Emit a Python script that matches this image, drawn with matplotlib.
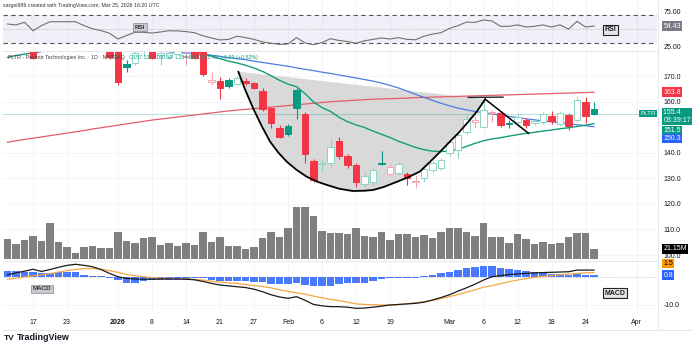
import numpy as np
import matplotlib.pyplot as plt

W, H = 695, 350
plt.rcParams['font.family'] = ['Liberation Sans', 'DejaVu Sans']

# bar index: 0 = 2025-12-17, one step per trading day (Dec 12 .. Mar 25)
bar_idx = np.arange(-3, 67)

opens = [188, 185, 183, 186, 182, 188, 193, 194, 195, 193, 188, 185, 183, 180, 174.9, 175.4, 180.5, 182, 178.5, 177.8,
         179, 177.5, 181, 180, 167.8, 168.4, 168.8, 166.9, 168.4, 167.3, 164.3, 157.5, 149.9, 150.7, 164.7, 155.3, 136.9,
         135.6, 136, 144.7, 138.8, 135.3, 127.7, 128.7, 135.9, 131.6, 132, 131.6, 128.7, 130.1, 133.3, 134, 139.9, 141.2,
         148.1, 152.3, 150.3, 155.6, 155.6, 151.6, 152.3, 152.9, 151.6, 152.3, 154.6, 151.3, 154.9, 152.9, 159.9, 157.1]
highs = [190, 187, 185, 188, 186, 195, 195, 196, 196, 194, 189, 186, 184, 182, 176.5, 180.5, 182, 183, 180.5, 181,
         181, 180, 182, 181, 171.9, 169.9, 169.5, 170.3, 169.3, 168, 165.5, 158, 151, 151.3, 165.4, 156, 137.5,
         137.3, 145.4, 146.2, 139.5, 136, 132.7, 134, 140.8, 135.5, 136.5, 132.7, 131.4, 135.3, 137, 138, 145, 148.1,
         154.9, 154.9, 160.8, 156.9, 156.2, 153, 155.7, 153.8, 152.9, 156.2, 156.5, 156.5, 155.6, 162, 162.1, 160.1]
lows = [182, 182, 182, 176.8, 181.8, 186, 191, 192, 193, 188, 184, 182, 177, 166.7, 171.9, 174.5, 178, 176.8, 174.5, 177,
        178.5, 174.5, 176.8, 170.3, 166.7, 161.2, 165.5, 166.5, 166.8, 165, 156.5, 149.7, 145.8, 146.8, 153.3, 136, 128.7,
        132.7, 134.6, 137.5, 134, 126.8, 126.8, 127.5, 135.2, 130.8, 131.5, 127.5, 126.2, 128.7, 132.5, 133.5, 139, 137.9,
        147.5, 149.7, 149.9, 152.3, 150.3, 149.7, 150.2, 149.7, 150.8, 151.5, 151.5, 150.5, 149, 152, 151.6, 154.9]
closes = [184, 183, 184, 177.2, 185, 193, 193.5, 195, 194, 189, 185, 183, 177.5, 167.8, 173.9, 179.3, 181, 177.2, 179.2, 179.3,
          180.8, 178, 177.3, 170.8, 168.5, 165.4, 166.1, 169.6, 167.6, 165.6, 157.3, 151.6, 146.4, 147.3, 157.8, 139.5, 129.4,
          136.2, 142.5, 138.8, 135.3, 128.7, 131, 133.3, 135.6, 134.6, 135.6, 130.3, 129.2, 133.7, 136, 137.3, 144.4, 147.1,
          153.2, 152.9, 156.9, 156.2, 151, 151.2, 154.2, 151, 152.5, 155.2, 152.5, 155.6, 150.6, 160.8, 154.6, 155.4]

volume_m = [41.7, 31.7, 40.2, 48.6, 38.7, 76.1, 36.0, 24.7, 12.1, 26.0, 28.1, 23.3, 22.6, 57.7, 38.7, 33.2, 43.8, 45.9,
            29.6, 34.5, 27.5, 33.2, 30.2, 57.7, 35.3, 47.2, 28.1, 28.1, 21.8, 26.0, 43.8, 57.7, 45.9, 65.6, 110.0, 110.0,
            90.9, 59.9, 55.6, 54.4, 52.9, 65.6, 48.6, 47.2, 57.7, 40.2, 52.2, 52.2, 47.2, 50.8, 43.8, 57.7, 65.6, 65.6,
            57.7, 48.6, 76.1, 45.9, 45.9, 33.2, 52.9, 41.7, 31.7, 36.0, 31.7, 33.2, 47.2, 55.6, 54.4, 21.15]

ema_green = [177.5, 178.2, 178.8, 179.2, 179.8, 180.8, 181.5, 182.2, 182.8, 183.2, 183.4, 183.4, 182.9, 181.8, 181.1,
             181.0, 180.8, 180.5, 180.4, 180.3, 180.2, 180.0, 179.7, 179.0, 178.0, 177.0, 176.0, 175.3, 174.4, 173.3,
             172.0, 170.3, 168.5, 167.0, 166.0, 163.3, 160.0, 157.8, 156.3, 154.0, 152.3, 151.0, 150.0, 148.6, 147.3,
             146.1, 144.6, 143.4, 142.2, 141.3, 140.7, 140.6, 140.7, 141.4, 142.6, 143.8, 144.8, 145.5, 146.0, 146.6,
             147.2, 147.7, 148.1, 148.6, 149.0, 149.5, 149.9, 150.4, 150.9, 151.5]
sma_blue = [185.5, 185.3, 185.1, 184.9, 184.7, 184.5, 184.2, 184.0, 183.7, 183.4, 183.1, 182.7, 182.3, 181.9, 181.5,
            181.1, 180.7, 180.3, 180.0, 179.7, 179.4, 179.2, 179.0, 178.7, 178.3, 177.9, 177.4, 177.0, 176.6, 176.0,
            175.5, 175.0, 174.5, 174.0, 173.4, 172.8, 172.3, 171.7, 171.2, 170.6, 170.0, 169.4, 168.8, 168.2, 167.4,
            166.5, 165.5, 164.3, 163.0, 161.8, 160.6, 159.5, 158.5, 157.6, 156.9, 156.3, 155.8, 155.3, 154.8, 154.3,
            153.9, 153.4, 153.0, 152.6, 152.2, 151.9, 151.5, 151.1, 150.7, 150.3]
sma_red = [144.2, 144.8, 145.3, 145.8, 146.3, 146.8, 147.3, 147.8, 148.3, 148.8, 149.4, 149.9, 150.4, 150.9, 151.4,
           151.9, 152.4, 152.9, 153.3, 153.7, 154.1, 154.5, 154.9, 155.3, 155.7, 156.1, 156.5, 156.8, 157.1, 157.4,
           157.7, 158.0, 158.3, 158.6, 158.9, 159.2, 159.5, 159.8, 160.1, 160.3, 160.5, 160.7, 160.9, 161.1, 161.2,
           161.3, 161.4, 161.5, 161.7, 161.8, 161.9, 162.0, 162.1, 162.2, 162.3, 162.4, 162.5, 162.6, 162.7, 162.8,
           162.9, 163.0, 163.1, 163.2, 163.3, 163.4, 163.5, 163.6, 163.7, 163.8]

rsi = [57.3, 55.9, 59.7, 47.8, 55.0, 60.5, 60.5, 60.5, 60.5, 55.0, 50.5, 48.0, 44.2, 36.1, 41.0, 45.6, 45.6, 44.5, 46.0,
       47.8, 47.5, 46.5, 45.0, 40.5, 37.5, 34.7, 35.5, 40.0, 38.0, 35.5, 32.0, 30.0, 28.5, 29.0, 38.0, 30.5, 28.0, 31.0,
       36.5, 34.0, 32.5, 30.0, 33.5, 35.5, 37.5, 36.0, 38.0, 35.5, 35.0, 40.0, 43.0, 45.0, 51.0, 55.0, 60.0, 59.5, 63.0,
       61.5, 54.0, 54.0, 56.0, 53.0, 54.0, 56.0, 53.0, 56.0, 50.0, 61.0, 53.0, 54.43]

macd_line = [0.9, 1.6, 2.2, 2.9, 2.1, 2.8, 3.6, 4.3, 4.7, 4.3, 3.8, 2.8, 1.4, 0.2, -0.4, -0.6, -0.7, -0.7, -0.6, -0.6,
             -0.6, -0.7, -0.9, -1.5, -2.2, -2.8, -3.1, -3.4, -3.7, -4.3, -5.2, -6.3, -7.1, -7.6, -7.0, -8.3, -9.8,
             -10.3, -10.6, -10.6, -10.8, -11.2, -11.1, -10.8, -10.4, -10.0, -9.8, -9.6, -9.4, -9.0, -8.2, -7.3, -6.3,
             -5.0, -3.8, -2.5, -1.0, 0.2, 0.6, 1.0, 1.2, 1.4, 1.6, 1.7, 1.8, 1.9, 2.0, 2.6, 2.6, 2.6]
macd_signal = [-0.7, -0.3, 0.1, 0.5, 0.9, 1.3, 1.9, 2.4, 2.8, 3.1, 3.2, 2.9, 2.4, 1.8, 1.0, 0.6, 0.2, -0.1, -0.3, -0.4,
               -0.5, -0.6, -0.8, -1.0, -1.4, -1.7, -2.0, -2.2, -2.6, -3.0, -3.3, -3.8, -4.5, -5.1, -5.6, -6.1, -6.8,
               -7.4, -8.0, -8.4, -9.0, -9.6, -9.8, -9.9, -10.0, -10.0, -9.9, -9.6, -9.2, -8.8, -8.3, -7.7, -7.0, -6.2,
               -5.4, -4.5, -3.6, -3.0, -2.3, -1.6, -1.0, -0.5, 0.0, 0.3, 0.6, 0.9, 1.2, 1.4, 1.6, 1.7]
macd_hist = [2.4, 2.2, 2.0, 1.8, 1.6, 1.7, 1.8, 1.9, 1.8, 0.8, 0.5, 0.3, -0.4, -1.0, -1.9, -1.9, -1.4, -1.0, -1.0, -1.0,
             -0.9, -0.8, -0.4, -0.4, -1.0, -1.2, -1.3, -1.4, -1.5, -1.6, -1.8, -2.4, -2.5, -2.5, -2.2, -2.8, -3.0,
             -3.1, -3.0, -2.5, -2.2, -1.9, -1.9, -1.2, -0.6, -0.2, -0.1, -0.1, -0.1, 0.4, 0.8, 1.5, 2.0, 2.6, 3.2, 3.7,
             4.1, 4.1, 3.4, 3.0, 2.6, 2.2, 1.9, 1.5, 1.3, 1.2, 1.0, 1.1, 0.9, 0.8]

# cup & handle drawing (bar index, price)
cup_i = [24.15, 25.0, 25.9, 26.9, 27.9, 28.9, 29.85, 31.0, 32.2, 33.4, 34.55, 36.0, 37.6, 39.0, 40.0, 41.2, 42.35, 44.0,
         45.5, 46.7, 47.9, 49.0, 50.2, 51.2, 52.2, 53.2]
cup_p = [171.9, 164.5, 157.5, 150.6, 144.4, 140.0, 136.6, 133.4, 130.7, 128.8, 127.5, 126.0, 125.1, 125.2, 125.5, 126.6,
         128.1, 130.3, 132.7, 136.5, 140.5, 144.3, 148.4, 152.2, 156.2, 161.1]
handle_i = [53.2, 58.3]
handle_p = [161.1, 147.7]
rim_i = [51.2, 55.3]
rim_p = [161.8, 161.9]

tick_idx = [0, 4, 10, 14, 18, 22, 26, 30, 34, 38, 42, 49, 53, 57, 61, 65, 71]
tick_lab = ['17', '23', '2026', '8', '14', '21', '27', 'Feb', '6', '12', '19', 'Mar', '6', '12', '18', '24', 'Apr']

UP, DN = '#089981', '#f23645'
UP_L, DN_L = '#8fd3c3', '#f5a6ad'
GRID = '#f0f3fa'
TXT = '#131722'


def ax_at(x0, y0, x1, y1):
    return fig.add_axes([x0 / W, 1 - y1 / H, (x1 - x0) / W, (y1 - y0) / H])


def clean(ax):
    for s in ax.spines.values():
        s.set_visible(False)
    ax.set_xlim(-3.53, 73.41)
    ax.yaxis.tick_right()
    ax.tick_params(axis='y', length=0, labelsize=5, pad=4.5, colors=TXT)
    ax.tick_params(axis='x', length=0, labelsize=5, colors=TXT)
    ax.set_xticks(tick_idx)
    ax.set_xticklabels([])
    for t in tick_idx:
        ax.axvline(t, color=GRID, lw=0.6, zorder=0)


def rlabel(ax, y, text, fc, tc='white', dy=0, fs=5):
    ax.annotate(text, xy=(1, y), xycoords=ax.get_yaxis_transform(), xytext=(4.5, dy),
                textcoords='offset points', ha='left', va='center', fontsize=fs, color=tc,
                bbox=dict(boxstyle='square,pad=0.2', fc=fc, ec='none'), annotation_clip=False, zorder=10)


fig = plt.figure(figsize=(W / 100, H / 100), dpi=100)
fig.patch.set_facecolor('white')

# ---------------- RSI pane
ax_r = ax_at(3, 0, 657, 50)
clean(ax_r)
ax_r.set_ylim(20.5, 91.2)
ax_r.axhspan(30, 70, color='#7e57c2', alpha=0.09, lw=0, zorder=0)
ax_r.axhline(70, color='#555', lw=0.8, ls=(0, (4, 3)))
ax_r.axhline(30, color='#555', lw=0.8, ls=(0, (4, 3)))
ax_r.axhline(50, color='#999', lw=0.5, ls=(0, (1, 2)))
ax_r.plot(bar_idx, rsi, color='#707070', lw=0.8, zorder=3)
ax_r.set_yticks([75, 25])
ax_r.set_yticklabels(['75.00', '25.00'])
rlabel(ax_r, rsi[-1], '%.2f' % rsi[-1], '#787b86')
ax_r.text(12.6, 53, 'RSI', fontsize=4.5, fontweight='bold', color='#333', ha='center', va='center',
          bbox=dict(boxstyle='square,pad=0.25', fc='#c9cad0', ec='#888', lw=0.5), zorder=6)
ax_r.text(67.9, 48.8, 'RSI', fontsize=5, fontweight='bold', color='#222', ha='center', va='center',
          bbox=dict(boxstyle='square,pad=0.25', fc='#e4e4e8', ec='#222', lw=0.8), zorder=6)
fig.text(3 / W, 1 - 5 / H, 'sargei986 created with TradingView.com, Mar 25, 2026 16:20 UTC',
         fontsize=3.8, color='#333', va='center')

# ---------------- price pane
ax_p = ax_at(3, 52, 657, 260)
clean(ax_p)
ax_p.set_ylim(98.04, 179.6)
pticks = [100, 110, 120, 130, 140, 160, 170]
ax_p.set_yticks(pticks)
ax_p.set_yticklabels(['%.1f' % v for v in pticks])
for v in pticks:
    ax_p.axhline(v, color=GRID, lw=0.6, zorder=0)

ax_p.fill(cup_i, cup_p, color='#d3d3d3', alpha=0.85, lw=0, zorder=1)
ax_p.plot(cup_i, cup_p, color='black', lw=1.3, zorder=5, solid_capstyle='round')
ax_p.plot(handle_i, handle_p, color='black', lw=1.1, zorder=5)
ax_p.plot(rim_i, rim_p, color='#222', lw=1.0, zorder=5)

ax_p.axhline(closes[-1], color=UP, lw=0.6, alpha=0.35, zorder=1)

o = np.array(opens)
c = np.array(closes)
hi = np.array(highs)
lo = np.array(lows)
prev = np.r_[c[0], c[:-1]]
for x, oo, cc, hh, ll, pc in zip(bar_idx, o, c, hi, lo, prev):
    up_day = cc >= pc
    hollow = cc >= oo
    col = (UP_L if up_day else DN_L) if hollow else (UP if up_day else DN)
    face = 'white' if hollow else col
    ax_p.vlines(x, ll, hh, color=col, lw=0.8, zorder=3)
    ax_p.bar(x, max(abs(cc - oo), 0.3), bottom=min(oo, cc), width=0.72, color=face, edgecolor=col,
             lw=0.7, zorder=4)

ax_p.plot(bar_idx, sma_red, color='#e35d6a', lw=0.9, zorder=2)
ax_p.plot(bar_idx, sma_blue, color='#4d7be0', lw=0.9, zorder=2)
ax_p.plot(bar_idx, ema_green, color='#139c7a', lw=1.0, zorder=2)

title_txt = ax_p.text(0.008, 0.972, 'PLTR · Palantir Technologies Inc. · 1D · NASDAQ', transform=ax_p.transAxes,
                      fontsize=3.8, color='#444', va='center', zorder=8)
ax_p.annotate('O157.13  H160.10  L154.90  C155.40  +0.80 (+0.52%)', xy=(1, 0.5), xycoords=title_txt,
              xytext=(3, 0), textcoords='offset points', fontsize=3.8, color=UP, va='center', zorder=8)
ax_p.text(30.1, 100.8, 'E', fontsize=3.5, ha='center', va='center', color=UP,
          bbox=dict(boxstyle='round,pad=0.2', fc='#b9e4dc', ec='none'), zorder=8)

rlabel(ax_p, sma_red[-1], '%.1f' % sma_red[-1], DN)
rlabel(ax_p, closes[-1], '%.1f \n03:39:17' % closes[-1], UP, dy=-2)
rlabel(ax_p, ema_green[-1], '%.1f' % ema_green[-1], UP, dy=-5)
rlabel(ax_p, sma_blue[-1], '%.1f' % sma_blue[-1], '#2962ff', dy=-8.5)
ax_p.annotate('PLTR', xy=(1, closes[-1]), xycoords=ax_p.get_yaxis_transform(), xytext=(-12, 0),
              textcoords='offset points', ha='left', va='center', fontsize=4.5, color='white',
              bbox=dict(boxstyle='square,pad=0.2', fc=UP, ec='none'), annotation_clip=False, zorder=10)

# ---------------- volume overlay
ax_v = ax_at(3, 200, 657, 259)
ax_v.set_xlim(-3.53, 73.41)
ax_v.set_ylim(0, 59 * 2.115)
ax_v.axis('off')
ax_v.patch.set_alpha(0)
ax_v.bar(bar_idx, volume_m, width=0.86, color='#808080', lw=0)
ax_v.annotate('21.15M', xy=(1, volume_m[-1]), xycoords=ax_v.get_yaxis_transform(), xytext=(4.5, 0),
              textcoords='offset points', ha='left', va='center', fontsize=5, color='white',
              bbox=dict(boxstyle='square,pad=0.2', fc='black', ec='none'), annotation_clip=False, zorder=10)

# ---------------- MACD pane
ax_m = ax_at(3, 261, 657, 312)
clean(ax_m)
ax_m.set_ylim(-12.53, 5.88)
ax_m.set_yticks([-10])
ax_m.set_yticklabels(['-10.0'])
ax_m.axhline(0, color='#bbb', lw=0.5, ls=(0, (2, 2)))
ax_m.axhline(-10, color=GRID, lw=0.6, zorder=0)
hist = np.array(macd_hist)
ax_m.bar(bar_idx, hist, width=0.9, color='#2962ff', alpha=0.85, lw=0, zorder=2)
ax_m.plot(bar_idx, macd_signal, color='#f5a742', lw=0.9, zorder=3)
ax_m.plot(bar_idx, macd_line, color='#1b1b1b', lw=0.9, zorder=3)
ax_m.set_xticklabels(tick_lab)
ax_m.tick_params(axis='x', pad=5)
for lab in ax_m.get_xticklabels():
    if lab.get_text() == '2026':
        lab.set_fontweight('bold')
rlabel(ax_m, macd_signal[-1], '1.5', '#ff9800', tc='black', dy=6.5)
rlabel(ax_m, macd_hist[-1], '0.8', '#2962ff')
ax_m.text(1.1, -4.2, 'MACD', fontsize=4.5, fontweight='bold', color='#333', ha='center', va='center',
          bbox=dict(boxstyle='square,pad=0.25', fc='#c9cad0', ec='#888', lw=0.5), zorder=6)
ax_m.text(68.5, -5.7, 'MACD', fontsize=5, fontweight='bold', color='#222', ha='center', va='center',
          bbox=dict(boxstyle='square,pad=0.25', fc='#e4e4e8', ec='#222', lw=0.8), zorder=6)

# pane separators and footer
for yy in (50.5, 260.5):
    fig.add_artist(plt.Line2D([3 / W, 657 / W], [1 - yy / H, 1 - yy / H], color='#e0e3eb', lw=0.6))
fig.add_artist(plt.Line2D([658 / W, 658 / W], [1 - 330 / H, 1], color='#e0e3eb', lw=0.6))
fig.add_artist(plt.Line2D([3 / W, 692 / W], [1 - 330 / H, 1 - 330 / H], color='#e0e3eb', lw=0.6))
fig.text(4 / W, 1 - 338 / H, 'TV', fontsize=6, fontweight='black', color=TXT, va='center')
fig.text(17 / W, 1 - 338 / H, 'TradingView', fontsize=6.5, fontweight='bold', color=TXT, va='center')

fig.savefig('out.png', dpi=100, facecolor='white')
